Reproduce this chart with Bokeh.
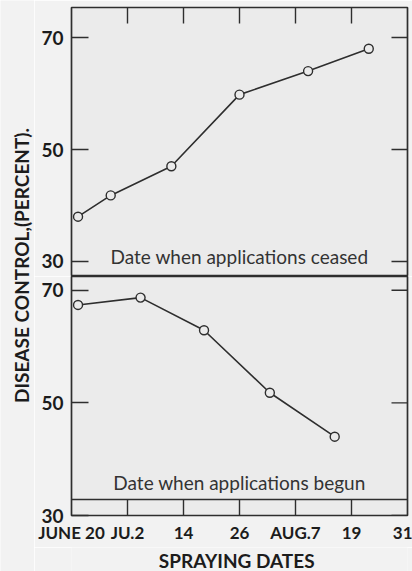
import math
from bokeh.plotting import figure
from bokeh.layouts import row, column
from bokeh.models import Range1d, LinearAxis, FixedTicker, Label, Span, BoxAnnotation
from bokeh.embed import file_html
from bokeh.resources import INLINE

# ---------------- data ----------------
# x = days after June 20
x_ticks = [0, 12, 24, 36, 48, 60, 72]
x_tick_labels = ["JUNE 20", "JU.2", "14", "26", "AUG.7", "19", "31"]
y_ticks = [30, 50, 70]

ceased_days = [1.4, 8.4, 21.4, 36.0, 50.7, 63.7]
ceased_control = [38.0, 41.8, 47.0, 59.8, 64.0, 68.0]

begun_days = [1.4, 14.8, 28.4, 42.5, 56.4]
begun_control = [67.4, 68.7, 62.9, 51.8, 44.0]

# ---------------- style / geometry ----------------
PAGE_BG = "#f2f2f2"
PLOT_BG = "#ebebeb"
INK = "#2e2e2e"
TXT = "#1c1c1c"
LABEL_FONT = "Lato"

TITLE_W = 34
PANEL_W = 378
BORDER_L = 37
BORDER_R = 5
FRAME_W = PANEL_W - BORDER_L - BORDER_R
PX_PER_DAY = FRAME_W / (x_ticks[-1] - x_ticks[0])

TOP_H, TOP_BT = 276, 7
TOP_Y = (27.32, 75.36)
TOP_PX_PER_UNIT = (TOP_H - TOP_BT) / (TOP_Y[1] - TOP_Y[0])

BOT_FRAME_H, BOT_BB = 239, 32
BOT_H = BOT_FRAME_H + BOT_BB
BOT_Y = (30.0, 72.45)
BOT_PX_PER_UNIT = BOT_FRAME_H / (BOT_Y[1] - BOT_Y[0])

FOOT_H = 571 - TOP_H - BOT_H
TICK_PX = 16


def make_panel(height, y_range, border_top, border_bottom):
    p = figure(width=PANEL_W, height=height,
               x_range=Range1d(x_ticks[0], x_ticks[-1]),
               y_range=Range1d(*y_range),
               output_backend="svg", toolbar_location=None,
               x_axis_location=None, y_axis_location=None,
               min_border_left=BORDER_L, min_border_right=BORDER_R,
               min_border_top=border_top, min_border_bottom=border_bottom,
               background_fill_color=PLOT_BG, border_fill_color=PAGE_BG,
               outline_line_color=INK, outline_line_width=1.7)
    p.grid.visible = False

    left = LinearAxis(ticker=FixedTicker(ticks=y_ticks),
                      major_tick_in=17, major_tick_out=0,
                      minor_tick_in=0, minor_tick_out=0,
                      axis_line_color=None,
                      major_tick_line_color=INK, major_tick_line_width=1.4,
                      major_label_standoff=8,
                      major_label_text_font=LABEL_FONT,
                      major_label_text_font_style="bold",
                      major_label_text_font_size="19px",
                      major_label_text_color=TXT)
    p.add_layout(left, "left")

    # inward ticks on the right edge
    x_hi = x_ticks[-1]
    p.segment(x0=[x_hi - TICK_PX / PX_PER_DAY] * len(y_ticks), y0=y_ticks,
              x1=[x_hi] * len(y_ticks), y1=y_ticks,
              line_color=INK, line_width=1.4)
    return p


def series(p, xs, ys):
    p.line(xs, ys, line_color=INK, line_width=1.6)
    p.scatter(xs, ys, marker="circle", size=9, fill_color=PLOT_BG,
              line_color=INK, line_width=1.4)


def note(p, text, y):
    p.add_layout(Label(x=(x_ticks[0] + x_ticks[-1]) / 2, y=y, text=text,
                       text_align="center", text_baseline="middle",
                       text_font="Lato", text_font_size="19px",
                       text_color="#333333"))


inner = x_ticks[1:-1]

# ---------------- top panel ----------------
top = make_panel(TOP_H, TOP_Y, TOP_BT, 0)
top.segment(x0=inner, y0=[TOP_Y[1]] * len(inner),
            x1=inner, y1=[TOP_Y[1] - TICK_PX / TOP_PX_PER_UNIT] * len(inner),
            line_color=INK, line_width=1.4)
series(top, ceased_days, ceased_control)
note(top, "Date when applications ceased", 30.9)

# ---------------- bottom panel ----------------
bot = make_panel(BOT_H, BOT_Y, 0, BOT_BB)
strip_top = BOT_Y[0] + TICK_PX / BOT_PX_PER_UNIT
half_w = 0.7 / PX_PER_DAY
# the date strip along the bottom: a divider at every tick date
for t in inner:
    bot.add_layout(BoxAnnotation(left=t - half_w, right=t + half_w,
                                 bottom=BOT_Y[0], top=strip_top,
                                 fill_color=INK, fill_alpha=1.0,
                                 line_color=None))
bot.add_layout(Span(location=strip_top, dimension="width",
                    line_color=INK, line_width=1.4))
xaxis = LinearAxis(ticker=FixedTicker(ticks=x_ticks),
                   major_label_overrides={t: lab for t, lab in zip(x_ticks, x_tick_labels)},
                   major_tick_in=0, major_tick_out=0,
                   minor_tick_in=0, minor_tick_out=0,
                   axis_line_color=None,
                   major_label_standoff=6,
                   major_label_text_font=LABEL_FONT,
                   major_label_text_font_style="bold",
                   major_label_text_font_size="17px",
                   major_label_text_color=TXT)
bot.add_layout(xaxis, "below")
series(bot, begun_days, begun_control)
note(bot, "Date when applications begun", 35.9)

# ---------------- footer: x title ----------------
foot = figure(width=PANEL_W, height=FOOT_H,
              x_range=Range1d(x_ticks[0], x_ticks[-1]), y_range=Range1d(0, 1),
              output_backend="svg", toolbar_location=None,
              x_axis_location=None, y_axis_location=None,
              min_border_left=BORDER_L, min_border_right=BORDER_R,
              min_border_top=0, min_border_bottom=0,
              outline_line_color=None,
              background_fill_color=PAGE_BG, border_fill_color=PAGE_BG)
foot.grid.visible = False
foot.add_layout(Label(x=(x_ticks[0] + x_ticks[-1]) / 2 - 0.6, y=0.45,
                      text="SPRAYING DATES", text_align="center",
                      text_baseline="middle", text_font=LABEL_FONT,
                      text_font_style="bold", text_font_size="19px",
                      text_color=TXT))

# ---------------- vertical axis title ----------------
ttl = figure(width=TITLE_W, height=571, x_range=Range1d(0, 1), y_range=Range1d(0, 1),
             output_backend="svg", toolbar_location=None,
             x_axis_location=None, y_axis_location=None,
             min_border=0, outline_line_color=None,
             background_fill_color=PAGE_BG, border_fill_color=PAGE_BG)
ttl.grid.visible = False
ttl.add_layout(Label(x=21 / TITLE_W, y=1 - 265 / 571, text="DISEASE CONTROL,(PERCENT).",
                     angle=math.pi / 2, text_align="center",
                     text_baseline="middle", text_font=LABEL_FONT,
                     text_font_style="bold", text_font_size="19px",
                     text_color=TXT))

layout = row(ttl, column(top, bot, foot))
open("out.html", "w").write(file_html(layout, INLINE))
